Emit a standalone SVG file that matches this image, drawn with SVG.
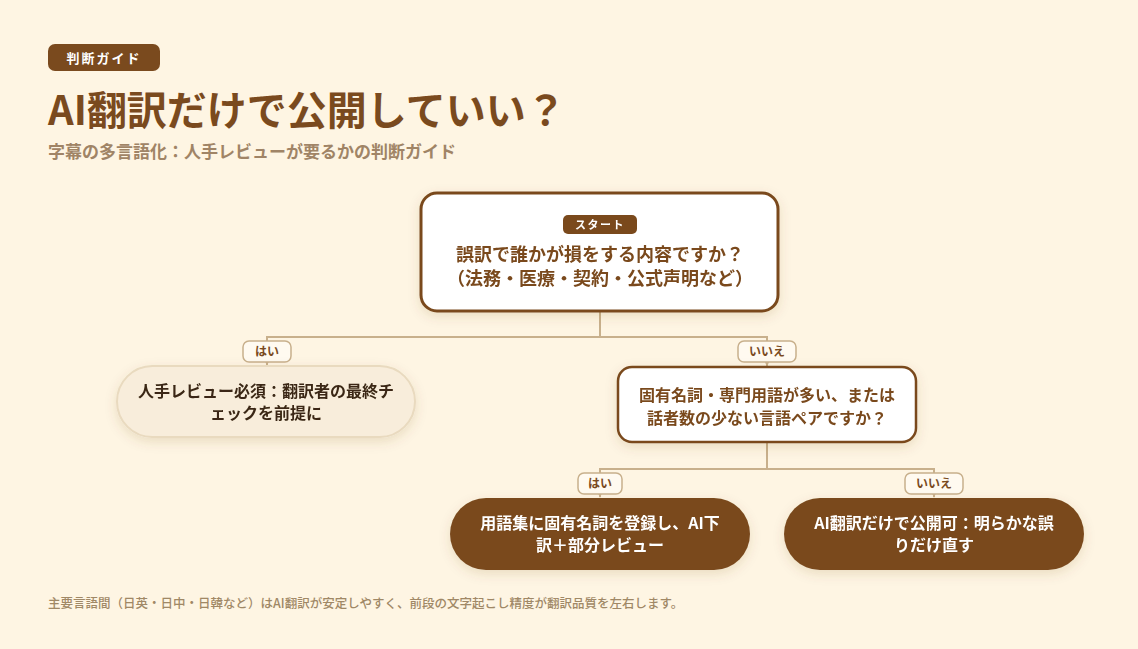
<svg xmlns="http://www.w3.org/2000/svg" width="1138" height="649" viewBox="0 0 1138 649">
<defs>
<filter id="sh" x="-20%" y="-30%" width="140%" height="160%">
<feDropShadow dx="0" dy="4" stdDeviation="6" flood-color="#7a4a1e" flood-opacity="0.15"/>
</filter>
<marker id="arr" viewBox="0 0 10 10" refX="9" refY="5" markerWidth="5" markerHeight="5" orient="auto">
<path d="M0 1 L10 5 L0 9 Z" fill="#c8b08c"/>
</marker>
<style>
text{font-family:"Noto Sans CJK JP","Noto Sans",sans-serif;font-weight:700;}
.ttl{font-size:40px;fill:#7a4a1e;}
.sub{font-size:17px;fill:#a08466;}
.badge{fill:#7a4a1e;}
.badgeT{font-size:13px;fill:#ffffff;letter-spacing:2px;}
.q{fill:#ffffff;stroke:#7a4a1e;}
.qT{font-size:16px;fill:#7a4a1e;text-anchor:middle;}
.soft{fill:#f8eddb;stroke:#e9dabf;stroke-width:2;}
.softT{font-size:16px;fill:#3a2814;text-anchor:middle;}
.dark{fill:#7a4a1e;}
.darkT{font-size:16px;fill:#ffffff;text-anchor:middle;}
.conn{fill:none;stroke:#c8b08c;stroke-width:2;}
.lbl{fill:#fffaf0;stroke:#c8b08c;stroke-width:1.5;}
.lblT{font-size:12px;fill:#7a4a1e;text-anchor:middle;}
.foot{font-size:12.5px;fill:#a08866;font-weight:500;}
</style>
</defs>
<rect width="1138" height="649" fill="#fef5e3"/>

<g id="header">
<rect class="badge" x="48" y="44" width="112" height="27" rx="7"/>
<text class="badgeT" x="104" y="62.5" text-anchor="middle">判断ガイド</text>
<text class="ttl" x="48" y="125">AI翻訳だけで公開していい？</text>
<text class="sub" x="48" y="158">字幕の多言語化：人手レビューが要るかの判断ガイド</text>
</g>

<g id="connectors">
<path class="conn" d="M600 311 V337 H267 V365" marker-end="url(#arr)"/>
<path class="conn" d="M600 337 H767 V366" marker-end="url(#arr)"/>
<path class="conn" d="M767 442 V469 H600 V497" marker-end="url(#arr)"/>
<path class="conn" d="M767 469 H934 V497" marker-end="url(#arr)"/>
<g id="labels">
<rect class="lbl" x="243" y="341" width="48" height="21" rx="6"/>
<text class="lblT" x="267" y="356">はい</text>
<rect class="lbl" x="738" y="341" width="58" height="21" rx="6"/>
<text class="lblT" x="767" y="356">いいえ</text>
<rect class="lbl" x="578" y="473" width="44" height="21" rx="6"/>
<text class="lblT" x="600" y="488">はい</text>
<rect class="lbl" x="905" y="473" width="58" height="21" rx="6"/>
<text class="lblT" x="934" y="488">いいえ</text>
</g>
</g>

<g id="start" filter="url(#sh)">
<rect class="q" x="421" y="193" width="357" height="118" rx="16" stroke-width="3"/>
<rect class="badge" x="563" y="215" width="74" height="19" rx="5"/>
<text x="600" y="228.5" text-anchor="middle" style="font-size:11px;fill:#fff;letter-spacing:1.5px">スタート</text>
<text class="qT" x="600" y="261" style="font-size:18px">誤訳で誰かが損をする内容ですか？</text>
<text class="qT" x="600" y="285" style="font-size:18px">（法務・医療・契約・公式声明など）</text>
</g>

<g id="human-review" filter="url(#sh)">
<rect class="soft" x="117" y="366" width="298" height="71" rx="35.5"/>
<text class="softT" x="266" y="397">人手レビュー必須：翻訳者の最終チ</text>
<text class="softT" x="266" y="419">ェックを前提に</text>
</g>

<g id="terms" filter="url(#sh)">
<rect class="q" x="618" y="367" width="298" height="75" rx="14" stroke-width="2.5"/>
<text class="qT" x="767" y="401">固有名詞・専門用語が多い、または</text>
<text class="qT" x="767" y="424">話者数の少ない言語ペアですか？</text>
</g>

<g id="glossary" filter="url(#sh)">
<rect class="dark" x="450" y="498" width="300" height="72" rx="36"/>
<text class="darkT" x="600" y="529">用語集に固有名詞を登録し、AI下</text>
<text class="darkT" x="600" y="551">訳＋部分レビュー</text>
</g>

<g id="ai-only" filter="url(#sh)">
<rect class="dark" x="784" y="498" width="300" height="72" rx="36"/>
<text class="darkT" x="934" y="529">AI翻訳だけで公開可：明らかな誤</text>
<text class="darkT" x="934" y="551">りだけ直す</text>
</g>

<g id="footer">
<text class="foot" x="48" y="608">主要言語間（日英・日中・日韓など）はAI翻訳が安定しやすく、前段の文字起こし精度が翻訳品質を左右します。</text>
</g>
</svg>
